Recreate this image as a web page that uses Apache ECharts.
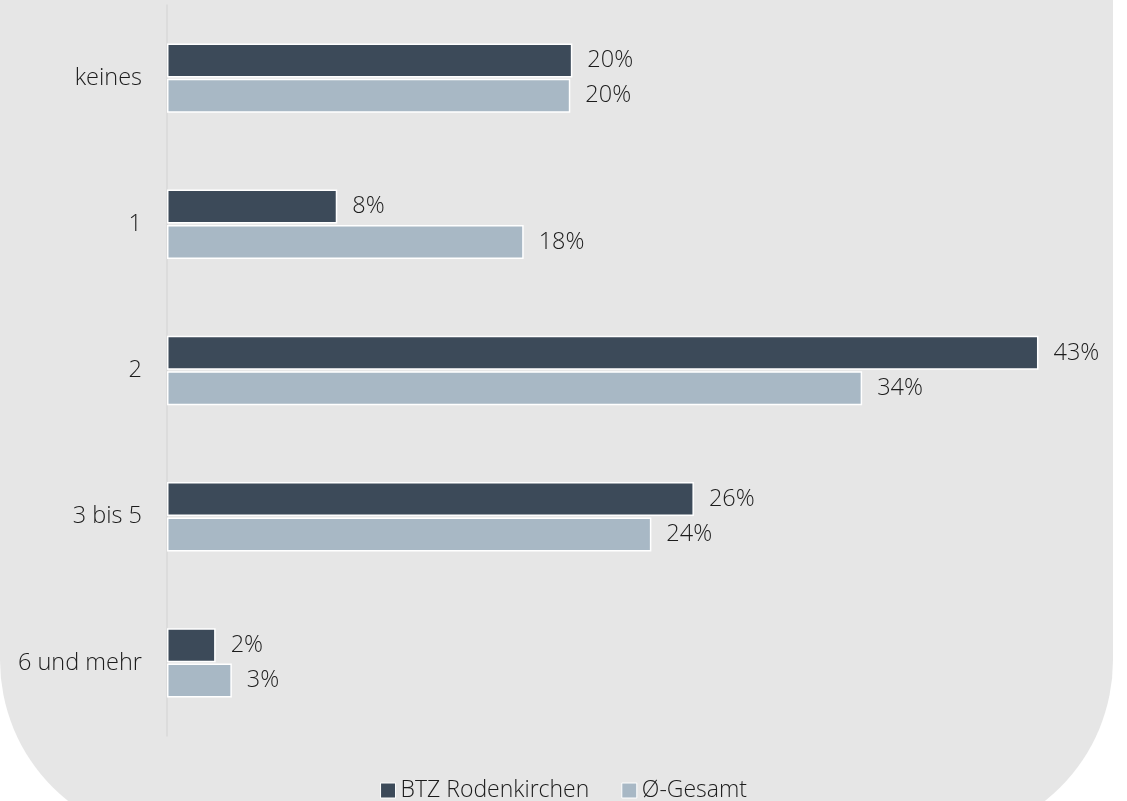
<!DOCTYPE html>
<html>
<head>
<meta charset="utf-8">
<script src="https://cdn.jsdelivr.net/npm/echarts@6/dist/echarts.min.js"></script>
<style>html,body{margin:0;padding:0;background:#fff;}#c{width:1127px;height:801px;}</style>
</head>
<body>
<div id="c"></div>
<script>
const categories = ['keines', '1', '2', '3 bis 5', '6 und mehr'];
const seriesNames = ['BTZ Rodenkirchen', 'Ø-Gesamt'];
const btzValues = [20.0, 8.4, 43, 26, 2.4];
const gesamtValues = [19.9, 17.6, 34.3, 23.9, 3.2];

const chart = echarts.init(document.getElementById('c'));
const font = "'Open Sans', 'Noto Sans', sans-serif";
const txt = '#1c1c1c';
const labelCfg = {
  show: true, position: 'right', distance: 15,
  fontFamily: font, fontWeight: 300, fontSize: 23.5, color: txt,
  formatter: p => Math.round(p.value) + '%'
};
chart.setOption({
  backgroundColor: '#ffffff',
  animation: false,
  graphic: [{
    type: 'rect', z: -10, silent: true,
    shape: { x: 0, y: -50, width: 1113, height: 890, r: [0, 0, 180, 180] },
    style: { fill: '#e6e6e6' }
  }],
  legend: {
    top: 774, left: 'center',
    itemWidth: 15, itemHeight: 15, itemGap: 32,
    icon: 'rect',
    textStyle: { fontFamily: font, fontWeight: 300, fontSize: 23, color: txt },
    data: seriesNames.map(n => ({ name: n, itemStyle: { borderColor: '#fff', borderWidth: 1 } }))
  },
  grid: { left: 167, top: 5, width: 912, height: 731, containLabel: false },
  xAxis: {
    type: 'value', min: 0, max: 45,
    show: false
  },
  yAxis: {
    type: 'category', data: categories, inverse: true,
    axisLine: { show: true, lineStyle: { color: '#d9d9d9', width: 1.5 } },
    axisTick: { show: false },
    axisLabel: { fontFamily: font, fontWeight: 300, fontSize: 23.5, color: txt, margin: 25 },
    splitLine: { show: false }
  },
  series: [
    {
      name: seriesNames[0], type: 'bar', data: btzValues,
      barWidth: 34, barGap: '4%',
      itemStyle: { color: '#3c4a59', borderColor: '#ffffff', borderWidth: 1.5 },
      label: labelCfg
    },
    {
      name: seriesNames[1], type: 'bar', data: gesamtValues,
      barWidth: 34,
      itemStyle: { color: '#a8b8c5', borderColor: '#ffffff', borderWidth: 1.5 },
      label: labelCfg
    }
  ]
});
</script>
</body>
</html>
